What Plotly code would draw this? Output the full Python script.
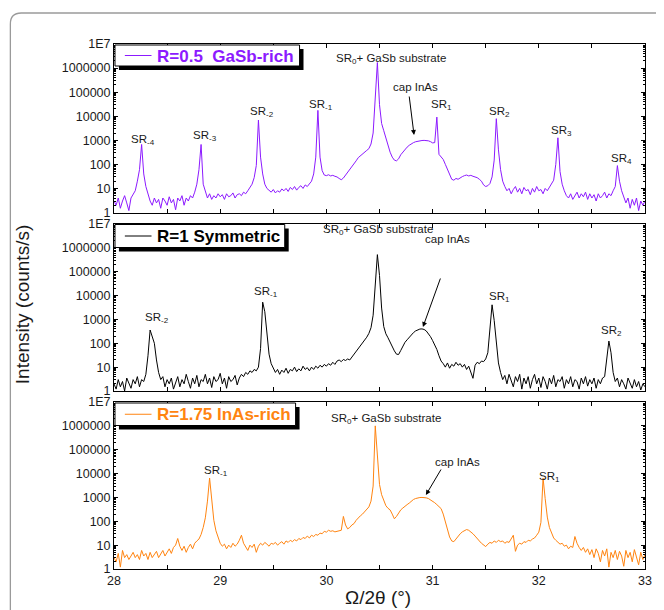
import plotly.graph_objects as go

# ---------------- data ----------------
X_START = 28.0          # first 2theta sample (deg)
X_STEP = 0.02           # sampling step (deg)

# R=0.5 GaSb-rich  (counts/s), one value per sample from 28.00 to 33.00
top_counts = [
    3, 2, 4, 1.5, 3, 5, 2.5, 1.2, 4, 6,
    8, 20, 60, 670, 40, 12, 6, 3, 2, 4,
    2.5, 3.5, 1.5, 4, 3, 2, 4.5, 2.5, 3.5, 1.3,
    4, 3, 5, 2, 4, 3, 5, 4, 7, 15,
    60, 670, 15, 7, 4, 6, 3.5, 5, 4, 6,
    4.5, 5.5, 3.5, 6, 4.5, 5, 6.5, 4, 5.5, 6,
    5, 7, 6, 8, 11, 15, 28, 90, 6900, 200,
    40, 15, 10, 8, 7, 9, 6.5, 8, 7, 9.5,
    8, 10, 7.5, 11, 9, 12, 8.5, 11, 13, 10,
    14, 12, 15, 20, 40, 200, 17500, 200, 55, 36,
    34, 37, 33, 35, 32, 30, 26, 23, 27, 35,
    45, 60, 80, 105, 140, 190, 230, 280, 330, 380,
    450, 700, 2000, 40000, 1700000, 30000, 5000, 2500, 1200, 600,
    320, 200, 150, 140, 170, 250, 330, 420, 520, 620,
    720, 800, 870, 920, 950, 980, 990, 980, 950, 880,
    780, 800, 9200, 260, 200, 160, 100, 65, 38, 24,
    22, 26, 24, 28, 31, 34, 36, 33, 35, 32,
    30, 28, 24, 20, 14, 12, 13, 16, 30, 150,
    7900, 400, 60, 20, 12, 8, 10, 6, 9, 12,
    7, 10, 6, 11, 8, 9, 5.5, 10, 7, 12,
    8, 9, 6, 10, 8, 11, 14, 22, 100, 1270,
    50, 15, 8, 5, 4, 6, 3.5, 5, 7, 4,
    6, 4.5, 7, 3.5, 6, 4, 5.5, 3, 6, 4,
    5, 7, 4, 6, 5, 8, 12, 89, 20, 8,
    4, 2.5, 4, 1.5, 3.5, 2, 4, 1.2, 3, 2,
    3,
]

# R=1 Symmetric
mid_counts = [
    2, 1.2, 3, 1.5, 2.5, 1, 3.5, 2, 1.3, 3,
    2, 4, 1.5, 3, 2.5, 5, 30, 360, 200, 100,
    20, 6, 3, 4, 1.5, 3, 2, 3.5, 1.2, 2.5,
    4, 1.5, 3, 2, 5, 2.5, 1.3, 3.5, 2, 4.5,
    1.5, 3, 2.5, 5, 2, 3.5, 1.4, 4, 2.5, 3,
    5.5, 2, 3.5, 1.3, 4, 2.5, 3, 4.5, 1.8, 3.5,
    5, 4, 6, 5, 7, 6, 8, 7, 10, 60,
    5300, 2100, 300, 35, 14, 9, 6, 8, 5, 7.5,
    6, 9, 5.5, 8, 7, 10, 6.5, 8.5, 7, 11,
    8, 9.5, 7, 10, 8, 11, 9, 12, 10, 13,
    11, 14, 12, 16, 13, 18, 20, 17, 21, 19,
    22, 20, 26, 35, 45, 60, 80, 100, 140, 180,
    260, 450, 1500, 30000, 520000, 70000, 3000, 500, 250, 170,
    110, 70, 48, 35, 34, 50, 75, 110, 140, 180,
    230, 280, 330, 370, 395, 400, 380, 330, 260, 190,
    130, 90, 55, 30, 18, 14, 10, 15, 9, 13,
    11, 16, 12, 14, 10, 13, 8, 11, 6, 3.4,
    12, 16, 14, 18, 17, 22, 40, 300, 4100, 900,
    80, 15, 6, 3, 4.5, 2, 5, 3, 1.5, 4,
    2.5, 5, 1.2, 3.5, 2, 4, 1.3, 3, 5, 2,
    3.5, 1.4, 4, 2.5, 1.2, 3.5, 2, 4.5, 1.5, 3,
    2.5, 4, 1.3, 3, 2, 4, 1.5, 3, 2.5, 1.2,
    3.5, 2, 4, 1.6, 3, 2, 3.5, 1.3, 3, 2,
    3.5, 4, 20, 124, 40, 6, 2.5, 3.5, 1.5, 3,
    2, 1.2, 3.5, 2, 1.3, 3, 1.5, 2.5, 1.1, 2,
    1.5,
]

# R=1.75 InAs-rich
bot_counts = [
    3, 2, 4.5, 1.2, 6, 3, 4, 2.5, 3.5, 5,
    3, 4, 2.5, 6, 3.5, 4.5, 2.5, 5, 3, 4,
    5.5, 3, 4.5, 6, 3.5, 5, 7, 4.5, 8, 10,
    19, 9, 6, 9, 5, 8, 11, 7, 12, 15,
    18, 28, 55, 140, 700, 6500, 600, 110, 40, 20,
    12, 9, 11, 7, 10, 8, 12, 9, 11, 16,
    26, 12, 9, 6, 10, 8, 11, 5, 9, 12,
    10, 13, 11, 9, 12, 11, 13, 10, 12, 14,
    11, 15, 13, 16, 14, 17, 15, 19, 17, 21,
    19, 24, 20, 26, 23, 28, 26, 32, 30, 38,
    35, 42, 38, 40, 36, 38, 40, 42, 160, 70,
    48, 55, 70, 80, 110, 140, 170, 200, 250, 300,
    400, 700, 3000, 1000000, 40000, 3500, 1300, 700, 450, 350,
    300, 200, 127, 160, 230, 300, 360, 410, 500, 580,
    700, 820, 900, 960, 990, 1000, 990, 960, 900, 800,
    700, 600, 500, 420, 340, 200, 100, 45, 22, 15,
    14, 18, 24, 30, 36, 42, 45, 42, 36, 30,
    24, 18, 15, 12, 10, 8.7, 11, 13, 12, 15,
    13, 16, 14, 15, 12, 14, 13, 20, 26, 5.5,
    10, 12, 11, 14, 13, 16, 15, 18, 20, 26,
    35, 90, 6500, 900, 150, 55, 30, 20, 16, 13,
    11, 12, 9, 10, 7, 9, 8, 23, 12, 8,
    6, 8, 5, 7, 4, 6.5, 3, 7, 4.5, 2,
    6, 3.5, 7, 1.2, 5, 3, 6, 2.5, 5.5, 3.5,
    1.3, 6, 3, 5, 2, 6.5, 3.5, 1.5, 5, 2.5,
    4,
]

series_names = ["R=0.5\u00a0 GaSb-rich", "R=1 Symmetric", "R=1.75 InAs-rich"]
series_colors = ["#8C1AFF", "#000000", "#FF8410"]

x_tick_values = [28, 28.5, 29, 29.5, 30, 30.5, 31, 31.5, 32, 32.5, 33]
x_tick_labels = ["28", "", "29", "", "30", "", "31", "", "32", "", "33"]
y_tick_values = [1, 10, 100, 1000, 10000, 100000, 1000000, 10000000]
y_tick_labels = ["1", "10", "100", "1000", "10000", "100000", "1000000", "1E7"]

# ---------------- geometry helpers (page pixel -> paper) ----------------
OFF = 8                      # page body margin of the browser
W, H = 664 - OFF, 610 - OFF
PL, PR, PT, PB = 114, 652, 44, 569   # plot area in page pixels
ML, MR, MT, MB = PL - OFF, W - (PR - OFF), PT - OFF, H - (PB - OFF)
PW, PH = W - ML - MR, H - MT - MB


def px(x):
    return (x - PL) / PW


def py(y):
    return (PB - y) / PH


FONT = "Liberation Sans, Arial, Helvetica, sans-serif"
TXT = "#1a1a1a"

fig = go.Figure()
panels = [("x", "y", top_counts), ("x2", "y2", mid_counts), ("x3", "y3", bot_counts)]
for (xa, ya, counts), name, col in zip(panels, series_names, series_colors):
    xs = [round(X_START + X_STEP * i, 4) for i in range(len(counts))]
    fig.add_trace(go.Scatter(x=xs, y=counts, mode="lines", name=name,
                             line=dict(color=col, width=1), xaxis=xa, yaxis=ya,
                             showlegend=False, hoverinfo="skip"))

minor_vals = [k * 10 ** d for d in range(7) for k in range(2, 10)]


def xax(anchor, labels):
    return dict(anchor=anchor, range=[28, 33], tickmode="array", tickvals=x_tick_values,
                ticktext=x_tick_labels, showticklabels=labels, ticks="inside", ticklen=4,
                tickcolor="black", showline=True, linecolor="black", linewidth=1,
                mirror="ticks", showgrid=False, zeroline=False,
                tickfont=dict(family=FONT, size=12.5, color=TXT))


def yax(anchor, dom):
    return dict(anchor=anchor, domain=dom, type="log", range=[0, 7], tickmode="array",
                tickvals=y_tick_values, ticktext=y_tick_labels, ticks="inside", ticklen=4,
                tickcolor="black", showline=True, linecolor="black", linewidth=1,
                mirror="ticks", showgrid=False, zeroline=False,
                minor=dict(tickmode="array", tickvals=minor_vals, ticks="inside", ticklen=2,
                           tickcolor="black", showgrid=False),
                tickfont=dict(family=FONT, size=12.5, color=TXT))


top_dom = [py(212.5), 1]
mid_dom = [py(391), py(224)]
bot_dom = [0, py(402)]

fig.update_layout(
    width=W, height=H, margin=dict(l=ML, r=MR, t=MT, b=MB),
    paper_bgcolor="white", plot_bgcolor="white",
    xaxis=xax("y", False), xaxis2=xax("y2", False), xaxis3=xax("y3", True),
    yaxis=yax("x", top_dom), yaxis2=yax("x2", mid_dom), yaxis3=yax("x3", bot_dom),
)

shapes = []
ann = []

# outer rounded frame (left edge kept just inside the figure area)
shapes.append(dict(type="path", xref="paper", yref="paper",
                   path=f"M {px(9)},{py(640)} L {px(9)},{py(24)} Q {px(9)},{py(13)} {px(20)},{py(13)} L {px(690)},{py(13)}",
                   line=dict(color="#9a9a9a", width=1.3)))

# legend boxes: (left, top, right, bottom) in page pixels
legend_boxes = [(115, 45, 302, 66), (115, 224.5, 287, 247.5), (115, 403, 298, 425.5)]
for (l, t, r, b), name, col in zip(legend_boxes, series_names, series_colors):
    shapes.append(dict(type="rect", xref="paper", yref="paper",
                       x0=px(l + 4), x1=px(r + 4), y0=py(b + 4), y1=py(t + 4),
                       fillcolor="black", line=dict(width=0)))
    shapes.append(dict(type="rect", xref="paper", yref="paper",
                       x0=px(l), x1=px(r), y0=py(b), y1=py(t),
                       fillcolor="white", line=dict(color="black", width=1)))
    ym = (t + b) / 2
    shapes.append(dict(type="line", xref="paper", yref="paper",
                       x0=px(125), x1=px(152), y0=py(ym), y1=py(ym),
                       line=dict(color=col, width=1)))
    ann.append(dict(xref="paper", yref="paper", x=px(156), y=py(ym + 0.5), text=f"<b>{name}</b>",
                    showarrow=False, xanchor="left", yanchor="middle",
                    font=dict(family=FONT, size=17, color=col)))

# peak labels (text, x_px, y_px) in page pixels
labels = [
    ("SR<sub>-4</sub>", 143, 140), ("SR<sub>-3</sub>", 206, 136), ("SR<sub>-2</sub>", 264, 112),
    ("SR<sub>-1</sub>", 324, 105), ("SR<sub>0</sub>+ GaSb substrate", 395, 59),
    ("cap InAs", 419, 87), ("SR<sub>1</sub>", 446, 105), ("SR<sub>2</sub>", 505, 112),
    ("SR<sub>3</sub>", 567, 131), ("SR<sub>4</sub>", 628, 159),
    ("SR<sub>-2</sub>", 158, 318), ("SR<sub>-1</sub>", 268, 292),
    ("SR<sub>0</sub>+ GaSb substrate", 381, 230), ("cap InAs", 452, 239),
    ("SR<sub>1</sub>", 505, 297), ("SR<sub>2</sub>", 618, 331),
    ("SR<sub>-1</sub>", 217, 471), ("SR<sub>0</sub>+ GaSb substrate", 390, 419),
    ("cap InAs", 462, 462), ("SR<sub>1</sub>", 555, 477),
]
for text, x, y in labels:
    ann.append(dict(xref="paper", yref="paper", x=px(x), y=py(y), text=text, showarrow=False,
                    xanchor="center", yanchor="middle",
                    font=dict(family=FONT, size=11.5, color=TXT)))

# arrows (tail -> head) in page pixels
arrows = [((413, 95), (418, 135)), ((445, 277), (427, 327)), ((446, 468), (430, 495))]
for (tx, ty), (hx, hy) in arrows:
    ann.append(dict(xref="paper", yref="paper", x=px(hx), y=py(hy), ax=tx - hx, ay=ty - hy,
                    axref="pixel", ayref="pixel", text="", showarrow=True,
                    arrowhead=2, arrowsize=1, arrowwidth=1, arrowcolor="black"))

# axis titles
ann.append(dict(xref="paper", yref="paper", x=px(21), y=py(305), text="Intensity (counts/s)",
                textangle=-90, showarrow=False, xanchor="center", yanchor="middle",
                font=dict(family=FONT, size=19, color=TXT)))
ann.append(dict(xref="paper", yref="paper", x=px(381), y=py(597), text="Ω/2θ (°)",
                showarrow=False, xanchor="center", yanchor="middle",
                font=dict(family=FONT, size=19, color=TXT)))

fig.update_layout(shapes=shapes, annotations=ann)
fig.write_html("out.html")
